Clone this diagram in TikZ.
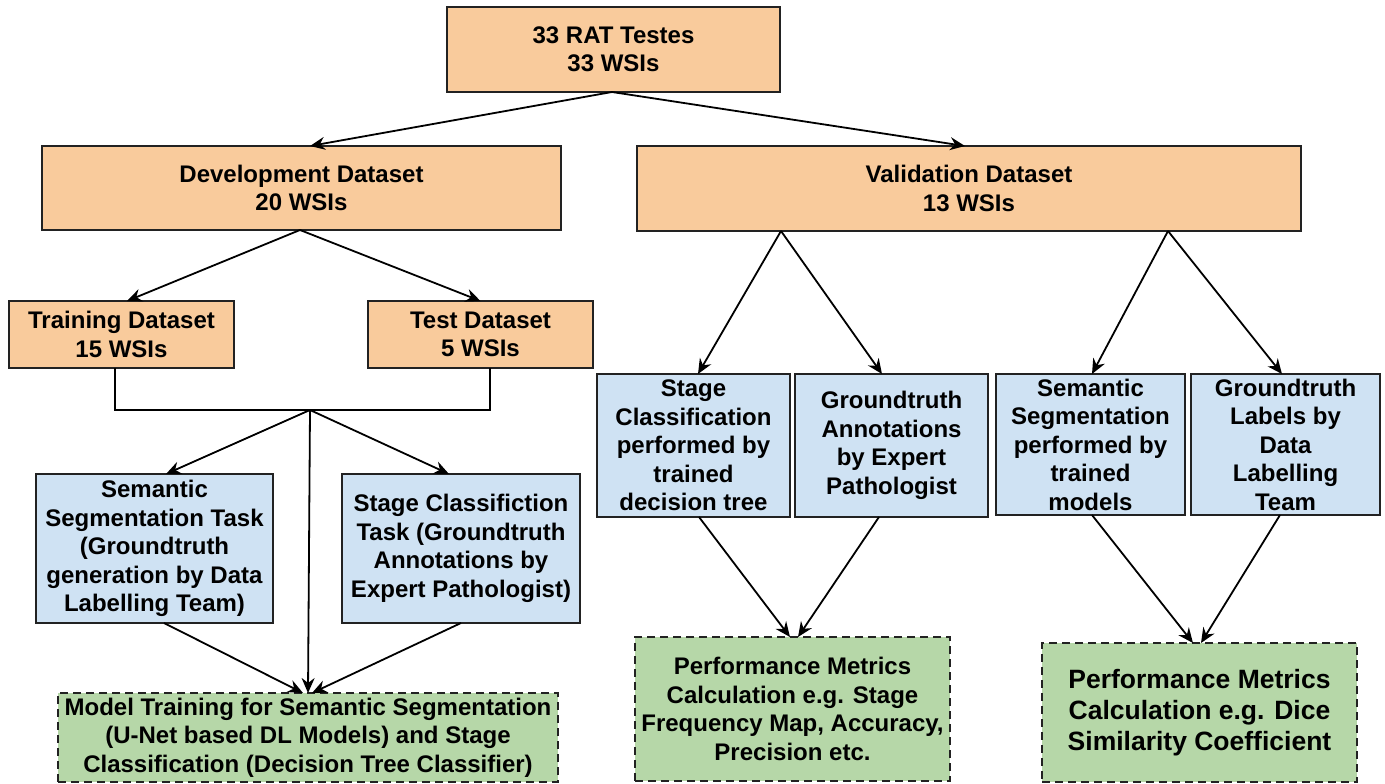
\documentclass[tikz,border=0pt]{standalone}
\usepackage{fontspec}
\setmainfont{Liberation Sans}
\usetikzlibrary{arrows.meta}
\definecolor{orfill}{HTML}{F9CB9C}
\definecolor{blfill}{HTML}{CFE2F3}
\definecolor{grfill}{HTML}{B6D7A8}
\definecolor{bord}{HTML}{222222}
\tikzset{
  box/.style={draw=bord, line width=2pt, inner sep=0pt, outer sep=0pt, align=center,
    font=\bfseries\fontsize{24}{28.5}\selectfont, text=black},
  obox/.style={box, fill=orfill},
  bbox/.style={box, fill=blfill},
  gbox/.style={box, fill=grfill, dash pattern=on 8pt off 5pt},
  arr/.style={draw=black, line width=1.8pt, -{Stealth[length=15pt, width=13pt, inset=5pt]}},
  plain/.style={draw=black, line width=1.6pt},
}
\begin{document}
\begin{tikzpicture}[x=1pt, y=-1pt]
\useasboundingbox (0,0) rectangle (1385,784);
% top row
\node[obox, minimum width=333pt, minimum height=85pt] (top) at (613.5,49.5) {33 RAT Testes\\33 WSIs};
\node[obox, minimum width=519pt, minimum height=84pt] (dev) at (301.5,188) {Development Dataset\\20 WSIs};
\node[obox, minimum width=664pt, minimum height=85pt] (val) at (969,188.5) {Validation Dataset\\13 WSIs};
% development branch
\node[obox, minimum width=225pt, minimum height=67pt] (train) at (121.5,334.5) {Training Dataset\\15 WSIs};
\node[obox, minimum width=225pt, minimum height=67pt] (test) at (480.5,334.5) {Test Dataset\\5 WSIs};
\coordinate (jn) at (310,410);
\node[bbox, minimum width=237pt, minimum height=149pt] (semtask) at (154.5,548.5) {Semantic\\Segmentation Task\\(Groundtruth\\generation by Data\\Labelling Team)};
\node[bbox, minimum width=238pt, minimum height=149pt] (stagetask) at (461,548.5) {Stage Classifiction\\Task (Groundtruth\\Annotations by\\Expert Pathologist)};
\node[gbox, minimum width=500pt, minimum height=89pt] (model) at (308,737.5) {Model Training for Semantic Segmentation\\(U-Net based DL Models) and Stage\\Classification (Decision Tree Classifier)};
% validation branch
\node[bbox, minimum width=193pt, minimum height=143pt] (vstage) at (693.5,445.5) {Stage\\Classification\\performed by\\trained\\decision tree};
\node[bbox, minimum width=193pt, minimum height=143pt] (vgt) at (891.5,445.5) {Groundtruth\\Annotations\\by Expert\\Pathologist};
\node[bbox, minimum width=189pt, minimum height=141pt] (vsem) at (1090.5,444.5) {Semantic\\Segmentation\\performed by\\trained\\models};
\node[bbox, minimum width=189pt, minimum height=141pt] (vlab) at (1285.5,444.5) {Groundtruth\\Labels by\\Data\\Labelling\\Team};
\node[gbox, minimum width=315pt, minimum height=144pt] (perf1) at (792.5,709) {Performance Metrics\\Calculation e.g. Stage\\Frequency Map, Accuracy,\\Precision etc.};
\node[gbox, minimum width=315pt, minimum height=139pt, font=\bfseries\fontsize{26.5}{31}\selectfont] (perf2) at (1199.5,712.5) {Performance Metrics\\Calculation e.g. Dice\\Similarity Coefficient};
% connectors
\draw[arr] ([xshift=-1.5pt]top.south) -- ([xshift=8.5pt]dev.north);
\draw[arr] ([xshift=-1.5pt]top.south) -- ([xshift=-4pt]val.north);
\draw[arr] ([xshift=-1.5pt]dev.south) -- ([xshift=5.5pt]train.north);
\draw[arr] ([xshift=-1.5pt]dev.south) -- (test.north);
\draw[plain] ([xshift=-6.5pt]train.south) |- (jn) -| ([xshift=9.5pt]test.south);
\draw[arr] (jn) -- ([xshift=11.5pt]semtask.north);
\draw[arr] (jn) -- ([xshift=-12pt]stagetask.north);
\draw[arr] (jn) -- (model.north);
\draw[arr] ([xshift=9.5pt]semtask.south) -- ([xshift=-5pt]model.north);
\draw[arr] (stagetask.south) -- ([xshift=4pt]model.north);
\draw[arr] ([xshift=-188pt]val.south) -- ([xshift=4.5pt]vstage.north);
\draw[arr] ([xshift=-188pt]val.south) -- ([xshift=-9.5pt]vgt.north);
\draw[arr] ([xshift=199pt]val.south) -- ([xshift=1.5pt]vsem.north);
\draw[arr] ([xshift=199pt]val.south) -- ([xshift=-3.5pt]vlab.north);
\draw[arr] ([xshift=5.5pt]vstage.south) -- ([xshift=-2.5pt]perf1.north);
\draw[arr] ([xshift=-12.5pt]vgt.south) -- ([xshift=5.5pt]perf1.north);
\draw[arr] ([xshift=1.5pt]vsem.south) -- ([xshift=-6.5pt]perf2.north);
\draw[arr] ([xshift=-5.5pt]vlab.south) -- ([xshift=1.5pt]perf2.north);
\end{tikzpicture}
\end{document}
